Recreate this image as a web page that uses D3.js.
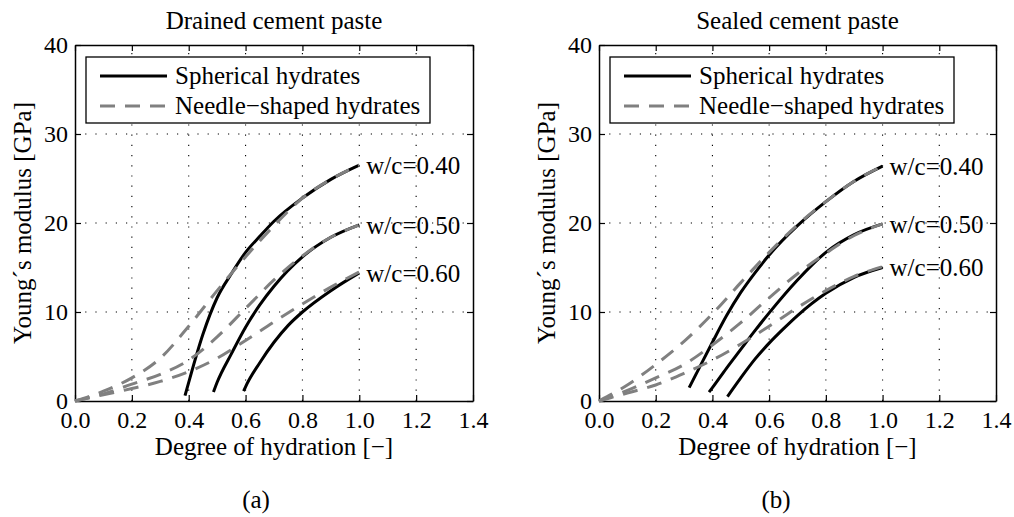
<!DOCTYPE html>
<html>
<head>
<meta charset="utf-8">
<script src="https://cdn.jsdelivr.net/npm/d3@7"></script>
<style>
  body { margin: 0; background: #fff; }
  svg text { font-family: "Liberation Serif", "Tinos", "DejaVu Serif", serif; fill: #000; }
</style>
</head>
<body>
<svg id="chart"></svg>
<script>
// ticks and labels
const xTicks = [0, 0.2, 0.4, 0.6, 0.8, 1.0, 1.2, 1.4];
const yTicks = [0, 10, 20, 30, 40];
const wcLabels = ["w/c=0.40", "w/c=0.50", "w/c=0.60"];
const legendLabels = ["Spherical hydrates", "Needle\u2212shaped hydrates"];
const panelTitles = ["Drained cement paste", "Sealed cement paste"];
const subCaptions = ["(a)", "(b)"];

// degree of hydration grid for the needle-shaped curves
const alphaGrid = [0, 0.1, 0.2, 0.3, 0.4, 0.5, 0.6, 0.7, 0.8, 0.9, 1.0];

// drained paste, needle-shaped hydrates (GPa)
const drainedNeedle040 = [0, 1.1, 2.6, 4.8, 8.4, 12.4, 16.2, 19.7, 22.8, 24.9, 26.5];
const drainedNeedle050 = [0, 0.8, 1.9, 3.0, 4.6, 7.2, 10.4, 13.6, 16.3, 18.4, 19.8];
const drainedNeedle060 = [0, 0.7, 1.4, 2.2, 3.3, 4.8, 6.8, 8.9, 10.9, 12.8, 14.5];

// drained paste, spherical hydrates
const drainedSphX040 = [0.387, 0.40, 0.45, 0.50, 0.55, 0.60, 0.65, 0.70, 0.80, 0.90, 1.0];
const drainedSphY040 = [0.6, 2.1, 7.5, 11.6, 14.3, 16.7, 18.5, 20.2, 22.8, 24.9, 26.5];
const drainedSphX050 = [0.487, 0.50, 0.55, 0.60, 0.65, 0.70, 0.80, 0.90, 1.0];
const drainedSphY050 = [1.0, 2.1, 5.3, 8.3, 10.8, 12.9, 16.2, 18.4, 19.8];
const drainedSphX060 = [0.593, 0.60, 0.65, 0.70, 0.75, 0.80, 0.90, 1.0];
const drainedSphY060 = [1.1, 1.6, 4.3, 6.6, 8.5, 10.0, 12.4, 14.4];

// sealed paste, needle-shaped hydrates
const sealedNeedle040 = [0, 1.8, 4.1, 6.7, 9.8, 13.3, 16.7, 19.8, 22.4, 24.7, 26.4];
const sealedNeedle050 = [0, 1.2, 2.6, 4.1, 6.3, 8.8, 11.6, 14.3, 16.6, 18.6, 19.9];
const sealedNeedle060 = [0, 0.9, 1.8, 3.1, 4.6, 6.4, 8.4, 10.5, 12.4, 14.0, 15.1];

// sealed paste, spherical hydrates
const sealedSphX040 = [0.318, 0.35, 0.40, 0.45, 0.50, 0.55, 0.60, 0.70, 0.80, 0.90, 1.0];
const sealedSphY040 = [1.5, 3.5, 6.6, 9.6, 12.2, 14.4, 16.4, 19.7, 22.4, 24.7, 26.4];
const sealedSphX050 = [0.388, 0.40, 0.45, 0.50, 0.55, 0.60, 0.70, 0.80, 0.90, 1.0];
const sealedSphY050 = [1.0, 1.5, 3.7, 5.8, 7.9, 9.9, 13.6, 16.7, 18.7, 19.9];
const sealedSphX060 = [0.453, 0.50, 0.55, 0.60, 0.65, 0.70, 0.80, 0.90, 1.0];
const sealedSphY060 = [0.5, 2.6, 4.7, 6.5, 8.1, 9.6, 12.1, 13.9, 15.0];

const panels = [
  {
    title: panelTitles[0], caption: subCaptions[0], left: 75, right: 473, captionX: 256,
    spherical: [[drainedSphX040, drainedSphY040], [drainedSphX050, drainedSphY050], [drainedSphX060, drainedSphY060]],
    needle: [drainedNeedle040, drainedNeedle050, drainedNeedle060]
  },
  {
    title: panelTitles[1], caption: subCaptions[1], left: 599, right: 996, captionX: 776,
    spherical: [[sealedSphX040, sealedSphY040], [sealedSphX050, sealedSphY050], [sealedSphX060, sealedSphY060]],
    needle: [sealedNeedle040, sealedNeedle050, sealedNeedle060]
  }
];

const width = 1014, height = 517;
const plotTop = 45, plotBottom = 401;

const svg = d3.select("#chart").attr("width", width).attr("height", height);
svg.append("rect").attr("width", width).attr("height", height).attr("fill", "#fff");

panels.forEach(p => {
  const x = d3.scaleLinear().domain([0, 1.4]).range([p.left, p.right]);
  const y = d3.scaleLinear().domain([0, 40]).range([plotBottom, plotTop]);
  const g = svg.append("g");

  // dotted grid
  g.append("g").selectAll("line")
    .data(xTicks.slice(1, -1))
    .enter().append("line")
    .attr("x1", d => x(d)).attr("x2", d => x(d))
    .attr("y1", plotBottom).attr("y2", plotTop)
    .attr("stroke", "#000").attr("stroke-width", 1.1)
    .attr("stroke-dasharray", "1.2,9");
  g.append("g").selectAll("line")
    .data(yTicks.slice(1, -1))
    .enter().append("line")
    .attr("x1", p.left).attr("x2", p.right)
    .attr("y1", d => y(d)).attr("y2", d => y(d))
    .attr("stroke", "#000").attr("stroke-width", 1.1)
    .attr("stroke-dasharray", "1.2,9");

  // axes, ticks pointing inward
  const styleAxis = sel => {
    sel.attr("font-family", null);
    sel.select(".domain").attr("stroke", "#000").attr("stroke-width", 1.5);
    sel.selectAll(".tick line").attr("stroke", "#000").attr("stroke-width", 1.2);
    sel.selectAll("text").attr("font-size", 24);
  };
  g.append("g")
    .attr("transform", `translate(0,${plotBottom})`)
    .call(d3.axisBottom(x).tickValues(xTicks).tickFormat(d3.format(".1f")).tickSize(-6).tickSizeOuter(0).tickPadding(10))
    .call(styleAxis);
  g.append("g")
    .attr("transform", `translate(0,${plotTop})`)
    .call(d3.axisTop(x).tickValues(xTicks).tickFormat("").tickSize(-6).tickSizeOuter(0))
    .call(styleAxis);
  g.append("g")
    .attr("transform", `translate(${p.left},0)`)
    .call(d3.axisLeft(y).tickValues(yTicks).tickFormat(d3.format("d")).tickSize(-6).tickSizeOuter(0).tickPadding(7))
    .call(styleAxis);
  g.append("g")
    .attr("transform", `translate(${p.right},0)`)
    .call(d3.axisRight(y).tickValues(yTicks).tickFormat("").tickSize(-6).tickSizeOuter(0))
    .call(styleAxis);

  const line = d3.line()
    .x(d => x(d[0]))
    .y(d => y(d[1]))
    .curve(d3.curveMonotoneX);

  // spherical hydrates, solid black
  p.spherical.forEach(s => {
    g.append("path")
      .datum(d3.zip(s[0], s[1]))
      .attr("d", line)
      .attr("fill", "none")
      .attr("stroke", "#000")
      .attr("stroke-width", 3);
  });

  // needle-shaped hydrates, grey dashes on top
  p.needle.forEach(vals => {
    g.append("path")
      .datum(d3.zip(alphaGrid, vals))
      .attr("d", line)
      .attr("fill", "none")
      .attr("stroke", "#808080")
      .attr("stroke-width", 3)
      .attr("stroke-dasharray", "15,10");
  });

  // w/c labels next to the curve ends
  p.spherical.forEach((s, i) => {
    g.append("text")
      .attr("x", x(1.0) + 7)
      .attr("y", y(s[1][s[1].length - 1]))
      .attr("dy", "0.35em")
      .attr("font-size", 25)
      .text(wcLabels[i]);
  });

  // legend
  const legend = g.append("g").attr("transform", `translate(${p.left + 11},${plotTop + 12})`);
  legend.append("rect")
    .attr("width", 344).attr("height", 66)
    .attr("fill", "#fff").attr("stroke", "#000").attr("stroke-width", 1.3);
  legendLabels.forEach((lab, i) => {
    const ly = 19 + i * 30;
    legend.append("line")
      .attr("x1", 14).attr("x2", 81).attr("y1", ly).attr("y2", ly)
      .attr("stroke", i === 0 ? "#000" : "#808080")
      .attr("stroke-width", 3)
      .attr("stroke-dasharray", i === 0 ? null : "15,10");
    legend.append("text")
      .attr("x", 89).attr("y", ly)
      .attr("dy", "0.33em")
      .attr("font-size", 25)
      .text(lab);
  });

  const cx = (p.left + p.right) / 2;
  g.append("text")
    .attr("x", cx).attr("y", 29)
    .attr("text-anchor", "middle").attr("font-size", 25)
    .text(p.title);
  g.append("text")
    .attr("x", cx).attr("y", 455)
    .attr("text-anchor", "middle").attr("font-size", 25)
    .text("Degree of hydration [\u2212]");
  g.append("text")
    .attr("transform", `translate(${p.left - 44},${(plotTop + plotBottom) / 2}) rotate(-90)`)
    .attr("text-anchor", "middle").attr("font-size", 25)
    .text("Young\u00b4s modulus [GPa]");
  g.append("text")
    .attr("x", p.captionX).attr("y", 508)
    .attr("text-anchor", "middle").attr("font-size", 25)
    .text(p.caption);
});
</script>
</body>
</html>
